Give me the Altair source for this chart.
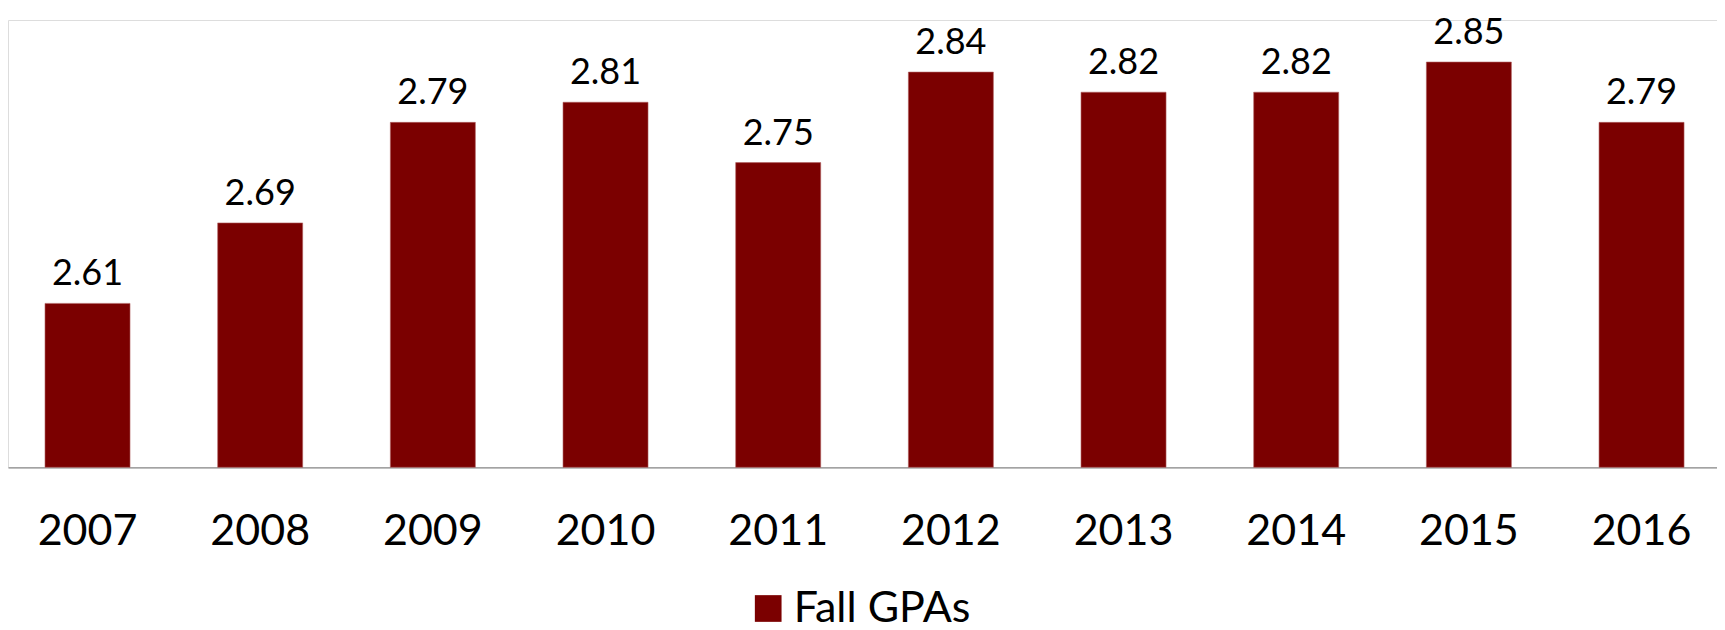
import altair as alt
import pandas as pd

years = ["2007", "2008", "2009", "2010", "2011", "2012", "2013", "2014", "2015", "2016"]
gpas = [2.61, 2.69, 2.79, 2.81, 2.75, 2.84, 2.82, 2.82, 2.85, 2.79]
series = "Fall GPAs"

df = pd.DataFrame({"year": years, "gpa": gpas, "series": [series] * len(years)})

YMIN = 2.447
YMAX = 2.8918
BAR = "#7b0000"
FONT = "Lato"

xenc = alt.X(
    "year:N",
    sort=years,
    title=None,
    scale=alt.Scale(paddingInner=0.5077, paddingOuter=0.2026, align=0.529),
    axis=alt.Axis(
        labelAngle=0,
        labelFont=FONT,
        labelFontSize=43,
        labelColor="#000000",
        labelBaseline="alphabetic",
        labelPadding=77,
        ticks=False,
        tickSize=0,
        domainColor="#8c8c8c",
        domainWidth=1.2,
        grid=False,
    ),
)
yscale = alt.Scale(domain=[YMIN, YMAX], zero=False, nice=False)

bars = alt.Chart(df).mark_bar(stroke="#b06060", strokeWidth=0.6).encode(
    x=xenc,
    y=alt.Y("gpa:Q", scale=yscale, axis=None),
    y2=alt.datum(YMIN),
    color=alt.Color(
        "series:N",
        scale=alt.Scale(range=[BAR]),
        legend=alt.Legend(
            title=None,
            orient="none",
            legendX=738.7,
            legendY=567,
            symbolType="square",
            symbolSize=713,
            symbolStrokeWidth=0,
            labelFont=FONT,
            labelFontSize=43,
            labelColor="#000000",
            labelOffset=4,
            labelLimit=600,
            padding=0,
        ),
    ),
)

labels = alt.Chart(df).mark_text(
    font=FONT, fontSize=36, color="#000000", baseline="alphabetic", dy=-18
).encode(
    x=alt.X("year:N", sort=years),
    y=alt.Y("gpa:Q", scale=yscale, axis=None),
    text=alt.Text("gpa:Q", format=".2f"),
)

chart = (
    alt.layer(bars, labels)
    .properties(
        width=1709,
        height=447.3,
        autosize=alt.AutoSizeParams(type="none"),
        padding={"left": 0, "top": 12, "right": 0, "bottom": 162.7},
    )
    .configure_view(stroke=None)
    .configure(background="#ffffff")
)

chart.save("out.html", embed_options={"renderer": "svg", "actions": False})
